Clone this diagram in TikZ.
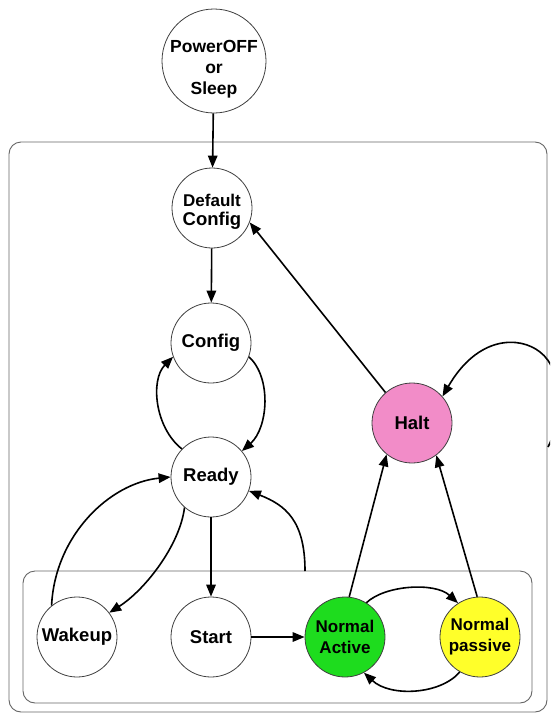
\documentclass[tikz,border=0pt]{standalone}
\usepackage{fontspec}
\setmainfont{Liberation Sans}
\usetikzlibrary{arrows.meta}
\definecolor{haltpink}{HTML}{F28CC8}
\definecolor{actgreen}{HTML}{1EDC1E}
\definecolor{pasyellow}{HTML}{FFFF2A}
\tikzset{
  st/.style={circle, draw=black!75, line width=0.8pt, minimum size=80pt, inner sep=0pt,
    align=center, font=\fontsize{18.5}{21}\selectfont\bfseries},
  twoline/.style={font=\fontsize{17}{21}\selectfont\bfseries},
  arr/.style={-{Triangle[length=12pt,width=9.5pt]}, line width=1.6pt, black},
  box/.style={draw=black!60, line width=0.9pt, rounded corners=12pt, inner sep=0pt}
}
\begin{document}
\begin{tikzpicture}[x=1pt,y=-1pt]
\useasboundingbox (0,0) rectangle (550,715);
\clip (0,0) rectangle (550,715);
\fill[white] (0,0) rectangle (550,715);
% boxes
\node[box, minimum width=538pt, minimum height=570pt] (outer) at (278,427) {};
\node[box, minimum width=509pt, minimum height=132pt] (inner) at (277.5,637) {};
% states
\node[st, minimum size=104pt,
  label={[yshift=-8pt, align=center, font=\fontsize{17.5}{21}\selectfont\bfseries]center:PowerOFF\\or\\Sleep}] (pw) at (214,61) {};
\node[st, minimum size=80pt,
  label={[yshift=-4pt, align=center, font=\fontsize{17}{19}\selectfont\bfseries]center:Default\\{\fontsize{18.5}{19}\selectfont Config}}] (dc) at (212,208) {};
\node[st] (cf) at (211,343) {Config};
\node[st] (rd) at (211,477) {Ready};
\node[st, fill=haltpink] (halt) at (412,423) {Halt};
\node[st] (wk) at (77,637) {Wakeup};
\node[st] (sa) at (211,637) {Start};
\node[st, fill=actgreen, twoline] (na) at (345,637) {Normal\\Active};
\node[st, fill=pasyellow, twoline] (np) at (480,637) {Normal\\passive};
% free ends
\coordinate (ibt) at (305,571);
\coordinate (hs) at (548,447);
\coordinate (hm) at (540,352);
% connectors
\draw[arr] (pw) -- (dc);
\draw[arr] (dc) -- (cf);
\draw[arr] (halt.131) -- (dc.-21);
\draw[arr] (cf.-20) .. controls (272,378) and (268,428) .. (rd.40);
\draw[arr] (rd.136) .. controls (155,428) and (150,380) .. (cf.200);
\draw[arr] (wk.129) .. controls (55,535) and (110,483) .. (rd.180);
\draw[arr] (rd.229) .. controls (180,545) and (145,590) .. (wk.37);
\draw[arr] (rd) -- (sa);
\draw[arr] (ibt) .. controls (305,520) and (285,505) .. (rd.-20);
\draw[arr] (sa) -- (na);
\draw[arr] (na.84) -- (halt.231);
\draw[arr] (np.94) -- (halt.-53);
\draw[arr] (na.58) .. controls (385,585) and (435,582) .. (np.123);
\draw[arr] (np.-120) .. controls (440,695) and (390,697) .. (na.-62);
\draw[arr] (hs) .. controls (562,420) and (564,370) .. (hm)
               .. controls (520,336) and (478,335) .. (halt.41);
\end{tikzpicture}
\end{document}
